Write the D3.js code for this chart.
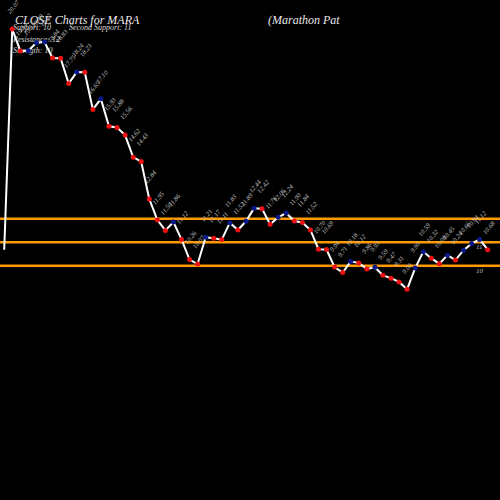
<!DOCTYPE html>
<html>
<head>
<meta charset="utf-8">
<script src="https://cdn.jsdelivr.net/npm/d3@7"></script>
<style>
body { margin: 0; background: #000; }
svg { display: block; }
text { font-family: "Liberation Serif", "DejaVu Serif", serif; font-style: italic; }
</style>
</head>
<body>
<div class="chart-wrap"></div>
<script>
// close values, oldest first (first one has no marker)
const startClose = 10.68;
const closes = [
  20.07, 19.14, 19.15, 19.49, 19.52, 18.84, 18.83, 17.75, 18.24, 18.23,
  16.65, 17.10, 15.93, 15.88, 15.56, 14.62, 14.43, 12.84, 11.95, 11.50,
  11.86, 11.12, 10.26, 10.07, 11.21, 11.17, 11.11, 11.83, 11.52, 11.89,
  12.44, 12.42, 11.76, 12.06, 12.24, 11.90, 11.84, 11.52, 10.70, 10.69,
  9.94, 9.71, 10.18, 10.12, 9.86, 9.93, 9.59, 9.47, 9.31, 9.00,
  9.90, 10.59, 10.32, 10.08, 10.45, 10.24, 10.66, 10.94, 11.12, 10.68
];
// 1 = up day (blue), 0 = down day (red)
const dayUp = [
  0, 0, 1, 1, 1, 0, 0, 0, 1, 0,
  0, 1, 0, 0, 0, 0, 0, 0, 0, 0,
  1, 0, 0, 0, 1, 0, 0, 1, 0, 1,
  1, 0, 0, 1, 1, 0, 0, 0, 0, 0,
  0, 0, 1, 0, 0, 1, 0, 0, 0, 0,
  1, 1, 0, 0, 1, 0, 1, 1, 1, 0
];
const levels = [12, 11, 10];
const levelLabels = [{v: 11, t: '11'}, {v: 10, t: '10'}];

const width = 500, height = 500;

const svg = d3.select('.chart-wrap')
.append('svg')
.attr('width', width)
.attr('height', height)
.style('background', '#000');

let x = d3.scaleLinear()
.domain([-1, closes.length - 1])
.range([4.2, 487.7]);

let y = d3.scaleLinear()
.domain([8, 21])
.range([312.7, 7.2]);

let pts = [{i: -1, v: startClose}].concat(closes.map((v, i) => ({i: i, v: v, up: dayUp[i]})));

// support / resistance lines
svg.append('g')
.selectAll('line')
.data(levels)
.enter()
.append('line')
.attr('x1', 0)
.attr('x2', width)
.attr('y1', d => y(d))
.attr('y2', d => y(d))
.style('stroke', '#ff9900')
.style('stroke-width', 2.5);

svg.selectAll('.lvl')
.data(levelLabels)
.enter()
.append('text')
.attr('class', 'lvl')
.attr('x', 476)
.attr('y', d => y(d.v) + 7)
.style('font-size', '7px')
.style('fill', '#bbb')
.text(d => d.t);

// title block
svg.append('text')
.attr('x', 15)
.attr('y', 24)
.style('font-size', '12px')
.style('fill', '#e8e8e8')
.text('CLOSE Charts for MARA');

svg.append('text')
.attr('x', 268)
.attr('y', 24)
.style('font-size', '12px')
.style('fill', '#e8e8e8')
.text('(Marathon  Pat');

const info = [
  {t: 'Support: 10', x: 13, y: 30},
  {t: 'Second Support: 11', x: 69, y: 30},
  {t: 'Resistance: 12', x: 13, y: 42},
  {t: 'Strength: 10', x: 13, y: 53}
];

svg.selectAll('.info')
.data(info)
.enter()
.append('text')
.attr('class', 'info')
.attr('x', d => d.x)
.attr('y', d => d.y)
.style('font-size', '8px')
.style('fill', '#d8d8d8')
.text(d => d.t);

// close line
svg.append('path')
.datum(pts)
.attr('d', d3.line().x(d => x(d.i)).y(d => y(d.v)))
.style('fill', 'none')
.style('stroke', '#fff')
.style('stroke-width', 2);

// value labels
svg.append('g')
.selectAll('text')
.data(pts.slice(1))
.enter()
.append('text')
.attr('transform', d => 'translate(' + (x(d.i) - 2) + ',' + (y(d.v) - 15) + ') rotate(-50)')
.style('font-size', '6.5px')
.style('fill', '#c8c8c8')
.text(d => d.v.toFixed(2));

// markers
svg.append('g')
.selectAll('circle')
.data(pts.slice(1))
.enter()
.append('circle')
.attr('cx', d => x(d.i))
.attr('cy', d => y(d.v))
.attr('r', 2.5)
.style('fill', d => d.up ? '#0a1a8c' : '#ee1111');
</script>
</body>
</html>
